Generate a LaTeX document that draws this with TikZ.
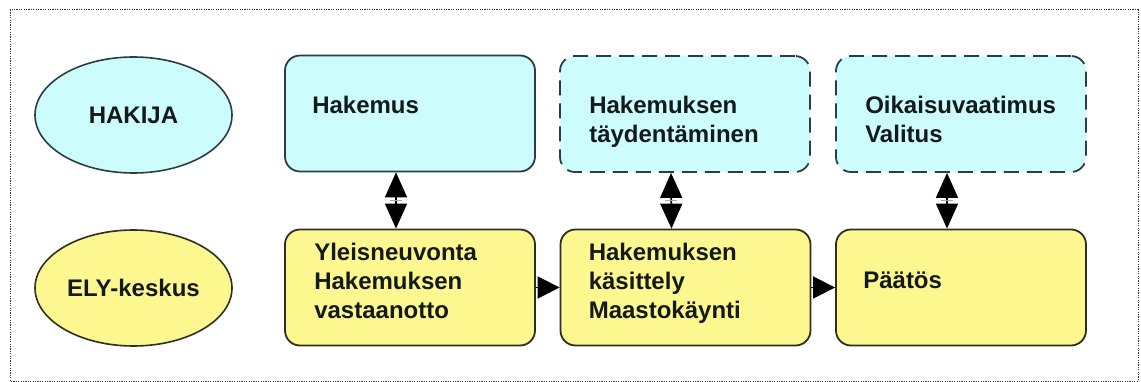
\documentclass[tikz,border=0pt]{standalone}
\usepackage{fontspec}
\setmainfont{Liberation Sans}
\usetikzlibrary{arrows.meta,shapes.geometric,calc}
\definecolor{cyanfill}{HTML}{CCFCFC}
\definecolor{yelfill}{HTML}{FCF78F}
\definecolor{cyanline}{HTML}{2A3E40}
\definecolor{yelline}{HTML}{2E2E22}
\definecolor{txt}{HTML}{141A1C}
\tikzset{
  box/.style={rectangle, rounded corners=15pt, minimum width=250pt, minimum height=116pt, inner sep=0pt, line width=1.8pt},
  cbox/.style={box, fill=cyanfill, draw=cyanline},
  ybox/.style={box, fill=yelfill, draw=yelline},
  dbox/.style={cbox, dash pattern=on 15pt off 8pt},
  oval/.style={ellipse, minimum width=197pt, minimum height=116pt, inner sep=0pt, line width=1.6pt, font=\fontsize{24}{29}\selectfont\bfseries, text=txt},
  lbl/.style={anchor=base west, align=left, inner sep=0pt, font=\fontsize{24}{29}\selectfont\bfseries, text=txt},
  vlink/.style={line width=1.6pt, {Triangle[length=25pt,width=22pt]}-{Triangle[length=25pt,width=22pt]}},
  hlink/.style={line width=1.6pt, -{Triangle[length=22pt,width=22pt]}},
  tick/.style={line width=1.2pt, draw=gray!70}
}
\begin{document}
\begin{tikzpicture}[x=1pt,y=-1pt]
\useasboundingbox (0,0) rectangle (1141,382);
\draw[line width=1pt, dash pattern=on 1.2pt off 1.2pt, draw=black!80] (10,10) rectangle (1138,381);

\node[oval, fill=cyanfill, draw=cyanline] (hakija) at (133.5,115) {HAKIJA};
\node[oval, fill=yelfill, draw=yelline] (ely) at (133.5,288) {ELY-keskus};

\node[cbox] (b1) at (410,113.5) {};
\node[dbox] (b2) at (685,114) {};
\node[dbox] (b3) at (961,114) {};
\node[ybox] (y1) at (410,287.5) {};
\node[ybox] (y2) at (685.5,287.5) {};
\node[ybox] (y3) at (961,287.5) {};

% base anchor of a multi-line node is the baseline of its last line
\node[lbl] (t1) at ($(b1.north west)+(28,59)$) {Hakemus};
\node[lbl] (t2) at ($(b2.north west)+(30,87)$) {Hakemuksen\\täydentäminen};
\node[lbl] (t3) at ($(b3.north west)+(30,87)$) {Oikaisuvaatimus\\Valitus};
\node[lbl] (u1) at ($(y1.north west)+(30,90)$) {Yleisneuvonta\\Hakemuksen\\vastaanotto};
\node[lbl] (u2) at ($(y2.north west)+(29,90)$) {Hakemuksen\\käsittely\\Maastokäynti};
\node[lbl] (u3) at ($(y3.north west)+(28,60)$) {Päätös};

\foreach \a/\b in {b1/y1,b2/y2,b3/y3}{
  \draw[vlink] ([xshift=-14pt]\a.south) -- ([xshift=-14pt]\b.north);
  \draw[tick] ($([xshift=-20pt]\a.south)!0.5!([xshift=-20pt]\b.north)$) -- ($([xshift=-8pt]\a.south)!0.5!([xshift=-8pt]\b.north)$);
}
\draw[hlink] (y1.east) -- (y2.west);
\draw[hlink] (y2.east) -- (y3.west);
\end{tikzpicture}
\end{document}
